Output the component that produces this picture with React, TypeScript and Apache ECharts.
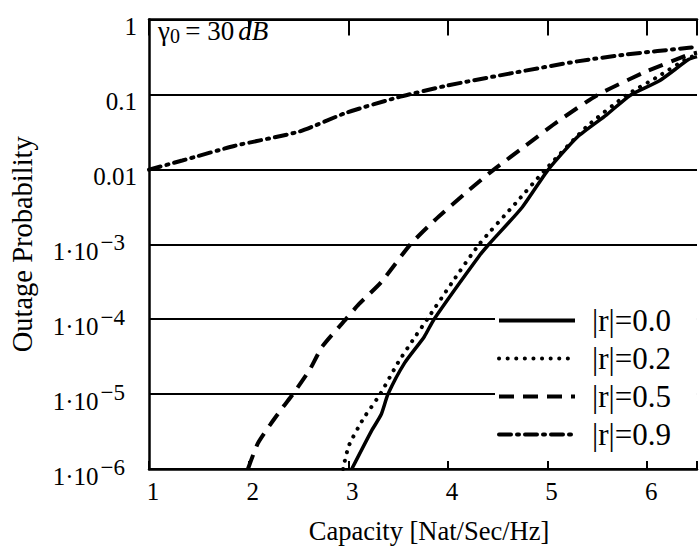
import React, { useEffect, useRef } from "react";
import * as echarts from "echarts";

const seriesNames = ["|r|=0.0", "|r|=0.2", "|r|=0.5", "|r|=0.9"];

const r00X = [3.035, 3.232, 3.33, 3.399, 3.566, 3.763, 3.861, 4.314, 4.412, 4.746, 5.002, 5.297, 5.592, 5.828, 6.123, 6.418, 6.5];
const r00Y = [1e-6, 3.21e-6, 5.33e-6, 1e-5, 2.61e-5, 5.84e-5, 1e-4, 6.98e-4, 1e-3, 3.12e-3, 0.0097, 0.0268, 0.0533, 0.097, 0.152, 0.294, 0.32];

const r02X = [2.947, 3.006, 3.153, 3.321, 3.498, 3.645, 3.793, 4.038, 4.314, 4.678, 4.972, 5.395, 5.789, 6.103, 6.418, 6.5];
const r02Y = [1e-6, 2.05e-6, 4.73e-6, 1e-5, 2.61e-5, 5.18e-5, 1e-4, 3.03e-4, 1e-3, 3.51e-3, 0.0097, 0.0373, 0.097, 0.171, 0.31, 0.33];

const r05X = [1.993, 2.091, 2.219, 2.347, 2.445, 2.613, 2.74, 2.976, 3.104, 3.33, 3.625, 3.871, 4.215, 4.451, 4.776, 5.1, 5.494, 5.956, 6.418, 6.5];
const r05Y = [1e-6, 2.18e-6, 3.95e-6, 6.78e-6, 1e-5, 2.11e-5, 4.33e-5, 1e-4, 1.57e-4, 3.12e-4, 1e-3, 2.11e-3, 5.33e-3, 0.0097, 0.0205, 0.0433, 0.097, 0.193, 0.34, 0.36];

const r09X = [1, 1.334, 1.855, 2.514, 2.976, 3.497, 3.989, 4.648, 5.297, 5.789, 6.418, 6.5];
const r09Y = [0.0099, 0.0131, 0.0205, 0.0321, 0.0567, 0.0914, 0.131, 0.193, 0.276, 0.341, 0.42, 0.43];

const xTickLabels = ["1", "2", "3", "4", "5", "6"];
const yPlainLabels: Record<number, string> = { 0: "1", [-1]: "0.1", [-2]: "0.01" };

const FONT = "'Liberation Serif', 'Times New Roman', serif";

const zip = (xs: number[], ys: number[]) => xs.map((x, i) => [x, ys[i]]);

export default function App() {
  const ref = useRef<HTMLDivElement>(null);
  useEffect(() => {
    if (!ref.current) return;
    const chart = echarts.init(ref.current, null, { renderer: "svg" });
    const lineBase = { type: "line", symbol: "none", smooth: 0.2, color: "#000" } as any;
    chart.setOption({
      animation: false,
      backgroundColor: "#fff",
      grid: { left: 146, top: 7, width: 559, height: 462 },
      xAxis: [
        {
          type: "value",
          min: 1,
          max: 6.5,
          interval: 1,
          name: "Capacity [Nat/Sec/Hz]",
          nameLocation: "middle",
          nameGap: 48,
          nameTextStyle: { fontFamily: FONT, fontSize: 26.5, color: "#000", padding: [0, 0, 0, 12] },
          axisLine: { show: true, lineStyle: { color: "#000", width: 2.5 } },
          axisTick: { show: true, inside: true, length: 8, lineStyle: { color: "#000", width: 2 } },
          axisLabel: {
            margin: 10,
            fontFamily: FONT,
            fontSize: 25,
            color: "#000",
            padding: [0, 0, 0, 8],
            formatter: (v: number) => {
              const i = Math.round(v) - 1;
              return Math.abs(v - Math.round(v)) < 1e-6 && xTickLabels[i] ? xTickLabels[i] : "";
            },
          },
          splitLine: { show: false },
        },
        {
          type: "value",
          position: "top",
          min: 1,
          max: 6.5,
          interval: 1,
          axisLine: { show: true, lineStyle: { color: "#000", width: 2.5 } },
          axisTick: { show: true, inside: true, length: 16, lineStyle: { color: "#000", width: 2 } },
          axisLabel: { show: false },
          splitLine: { show: false },
        },
      ],
      yAxis: {
        type: "log",
        logBase: 10,
        min: 1e-6,
        max: 1,
        splitNumber: 6,
        name: "Outage Probability",
        nameLocation: "middle",
        nameGap: 112,
        nameTextStyle: { fontFamily: FONT, fontSize: 28.5, color: "#000" },
        axisLine: { show: true, lineStyle: { color: "#000", width: 2.5 } },
        axisTick: { show: false },
        splitLine: { show: true, lineStyle: { color: "#000", width: 2 } },
        axisLabel: {
          margin: 12,
          color: "#000",
          fontFamily: FONT,
          fontSize: 25,
          formatter: (v: number) => {
            const e = Math.round(Math.log10(v));
            if (e >= -2) return "{b|" + yPlainLabels[e] + "}";
            return "{b|1\u00b710}{s|\u2212" + -e + "}{p| }";
          },
          rich: {
            b: { fontFamily: FONT, fontSize: 25, color: "#000", lineHeight: 26, padding: [14, 0, 0, 0] },
            s: { fontFamily: FONT, fontSize: 23, color: "#000", lineHeight: 22, verticalAlign: "top", padding: [0, 0, 0, 2] },
            p: { fontFamily: FONT, fontSize: 10, width: 12 },
          },
        },
      },
      legend: {
        orient: "vertical",
        left: 495,
        top: 297,
        backgroundColor: "#fff",
        padding: [8, 26, 8, 2],
        itemWidth: 76,
        itemHeight: 14,
        itemGap: 7,
        itemStyle: { opacity: 0, borderWidth: 0 },
        lineStyle: { width: 4 },
        data: seriesNames,
        textStyle: { fontFamily: FONT, fontSize: 31, color: "#000", lineHeight: 30, padding: [0, 0, 0, 12] },
      },
      graphic: [
        {
          type: "text",
          left: 158,
          top: 17,
          style: {
            text: "{g|\u03b3}{sub|0}{n|\u2009= 30}{i|dB}",
            rich: {
              g: { fontFamily: FONT, fontSize: 27, fill: "#000", lineHeight: 30 },
              sub: { fontFamily: FONT, fontSize: 20, fill: "#000", lineHeight: 26, verticalAlign: "bottom" },
              n: { fontFamily: FONT, fontSize: 27, fill: "#000", lineHeight: 30 },
              i: { fontFamily: FONT, fontSize: 27, fontStyle: "italic", fill: "#000", lineHeight: 30, padding: [0, 0, 0, 4] },
            },
          },
        },
      ],
      series: [
        { ...lineBase, name: seriesNames[0], data: zip(r00X, r00Y), lineStyle: { color: "#000", width: 3.5, type: "solid" } },
        { ...lineBase, name: seriesNames[1], data: zip(r02X, r02Y), lineStyle: { color: "#000", width: 4, type: [0.1, 8.5], cap: "round" } },
        { ...lineBase, name: seriesNames[2], data: zip(r05X, r05Y), lineStyle: { color: "#000", width: 4, type: [15, 9] } },
        { ...lineBase, name: seriesNames[3], data: zip(r09X, r09Y), lineStyle: { color: "#000", width: 4, type: [12, 6, 2, 6], cap: "round" } },
      ],
    });
    return () => chart.dispose();
  }, []);
  return <div ref={ref} style={{ width: 700, height: 555, position: "absolute", left: 0, top: 0 }} />;
}
